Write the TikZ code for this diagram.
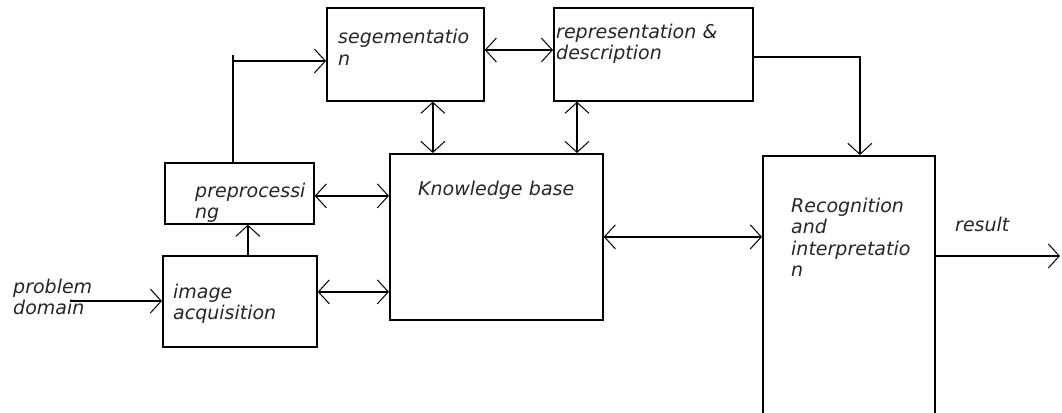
\documentclass[tikz,border=0pt]{standalone}
\usepackage{fontspec}
\setmainfont{DejaVu Sans}
\usetikzlibrary{arrows.meta}
\begin{document}
\begin{tikzpicture}[x=1pt,y=-1pt,
  box/.style={draw, line width=1.7pt, rectangle, inner sep=0pt, anchor=north west},
  lbl/.style={anchor=base west, inner sep=0pt, text width=220pt, align=left, text=black!85,
    font=\fontsize{19}{21.5}\selectfont\itshape},
  conn/.style={line width=1.7pt},
  >={Straight Barb[length=11pt,width=24pt,line width=1pt]}
]
\clip (0,0) rectangle (1062,412);
% boxes
\node[box, minimum width=157, minimum height=93] (seg) at (326,7) {};
\node[box, minimum width=199, minimum height=93] (rep) at (553,7) {};
\node[box, minimum width=213, minimum height=166] (kb) at (389,153) {};
\node[box, minimum width=149, minimum height=61] (pre) at (164,162) {};
\node[box, minimum width=154, minimum height=91] (img) at (162,255) {};
\node[box, minimum width=172, minimum height=290] (rec) at (762,155) {};
% labels
\node[lbl] (tseg) at (338,44) {segementatio\\n};
\node[lbl] (trep) at (556,38) {representation \&\\description};
\node[lbl] (tkb) at (418,195) {Knowledge base};
\node[lbl] (tpre) at (195,197) {preprocessi\\ng};
\node[lbl] (timg) at (173,298) {image\\acquisition};
\node[lbl] (tpd) at (13,293) {problem\\domain};
\node[lbl] (trec) at (791,212) {Recognition\\and\\interpretatio\\n};
\node[lbl] (tres) at (955,231) {result};
% helper coordinates
\coordinate (pd) at (70,301);
\coordinate (res) at (1060,256);
\coordinate (p0) at ([xshift=-6.5pt]pre.north);
\coordinate (p1) at ([yshift=-54pt]seg.north west);
\coordinate (p2) at ([yshift=-48pt]seg.north west);
% connectors
\draw[conn,->] (pd) -- (pd -| img.west);
\draw[conn,->] ([xshift=8pt]img.north) -- ([xshift=8pt]img.north |- pre.south);
\draw[conn] (p0) -- (p0 |- p2);
\draw[conn,->] (p0 |- p1) -- (p1);
\draw[conn,<->] ([yshift=-43pt]seg.north east) -- ([yshift=-43pt]rep.north west);
\draw[conn,<->] ([xshift=27.5pt]seg.south) -- ([xshift=27.5pt]seg.south |- kb.north);
\draw[conn,<->] ([xshift=24pt]rep.south west) -- ([xshift=24pt]rep.south west |- kb.north);
\draw[conn,->] ([yshift=-2.5pt]rep.east) -| ([xshift=11pt]rec.north);
\draw[conn,<->] ([yshift=-2.5pt]pre.east) -- ([yshift=-2.5pt]pre.east -| kb.west);
\draw[conn,<->] ([yshift=9.5pt]img.east) -- ([yshift=9.5pt]img.east -| kb.west);
\draw[conn,<->] (kb.east) -- (kb.east -| rec.west);
\draw[conn,->] (res -| rec.east) -- (res);
\end{tikzpicture}
\end{document}
